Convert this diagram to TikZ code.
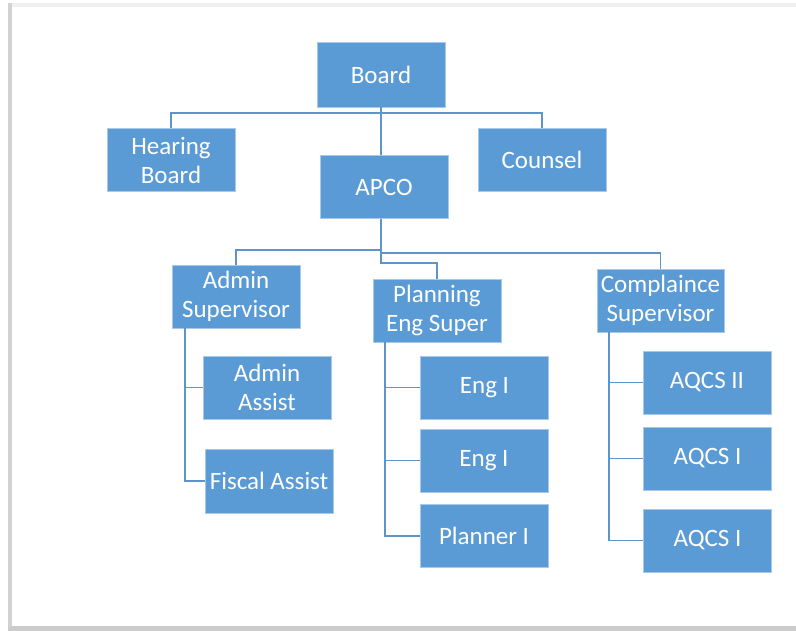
\documentclass[tikz,border=0pt]{standalone}
\usepackage{fontspec}
\setmainfont{Carlito}
\usepackage{tikz}

\definecolor{unitblue}{HTML}{5B9BD5}
\definecolor{unitedge}{HTML}{A9C9EA}
\definecolor{linkblue}{HTML}{5E93CB}

\begin{document}
\begin{tikzpicture}[x=1pt, y=-1pt,
        unit/.style = {rectangle,
            draw=unitedge,
            line width=0.8pt,
            fill=unitblue,
            text=white,
            align=center,
            inner sep=0pt,
            minimum width=128pt,
            minimum height=63pt,
            font=\fontsize{25}{29}\selectfont},
        link/.style = {draw=linkblue,
            line width=1.5pt}]

    \useasboundingbox (0,0) rectangle (796,631);

    % Page with its shadow
    \fill[gray!12] (8,3) rectangle (796,7);
    \fill[gray!35] (8,3) rectangle (12,631);
    \fill[gray!40] (8,626) rectangle (796,631);
    \fill[white] (12,7) rectangle (796,626);

    % Top of the chart
    \node[unit, minimum height=65pt] (board) at (381,74.5) {Board};
    \node[unit] (hearing) at (171,160) {Hearing\\Board};
    \node[unit] (counsel) at (542,159.5) {Counsel};
    \node[unit] (apco) at (384,187) {APCO};

    % Supervisors
    \node[unit] (admin) at (236,296.5) {Admin\\Supervisor};
    \node[unit] (planning) at (437,310.5) {Planning\\Eng Super};
    \node[unit, minimum width=127pt] (compliance) at (660.5,300.5) {Complaince\\Supervisor};

    % Admin staff
    \node[unit] (adminassist) at (267,387.5) {Admin\\Assist};
    \node[unit, minimum height=64pt] (fiscal) at (269,481) {Fiscal Assist};

    % Planning staff
    \node[unit] (engA) at (484.5,387.5) {Eng I};
    \node[unit] (engB) at (484,460.5) {Eng I};
    \node[unit] (planner) at (484,536) {Planner I};

    % Compliance staff
    \node[unit] (aqcsII) at (707,382.5) {AQCS II};
    \node[unit] (aqcsA) at (707.5,458.5) {AQCS I};
    \node[unit] (aqcsB) at (707.5,540.5) {AQCS I};

    % Links below the board
    \coordinate (boardbus) at (381,113);
    \draw[link] (board.south) -- (board.south |- apco.north);
    \draw[link] (hearing.north) |- (boardbus) -| (counsel.north);

    % Links below APCO
    \coordinate (apcotrunk) at (381,219);
    \draw[link] (apcotrunk) -- (381,263) -| (planning.north);
    \draw[link] (admin.north) |- (381,250);
    \draw[link] (compliance.north) |- (381,253);

    % Spines of the supervisors
    \coordinate (adminspine) at (185,328);
    \coordinate (planspine) at (385,342);
    \coordinate (compspine) at (609,332);
    \draw[link] (adminspine) |- (fiscal.west);
    \draw[link] (adminspine |- adminassist.west) -- (adminassist.west);
    \draw[link] (planspine) |- (planner.west);
    \draw[link] (planspine |- engA.west) -- (engA.west);
    \draw[link] (planspine |- engB.west) -- (engB.west);
    \draw[link] (compspine) |- (aqcsB.west);
    \draw[link] (compspine |- aqcsII.west) -- (aqcsII.west);
    \draw[link] (compspine |- aqcsA.west) -- (aqcsA.west);

\end{tikzpicture}
\end{document}
